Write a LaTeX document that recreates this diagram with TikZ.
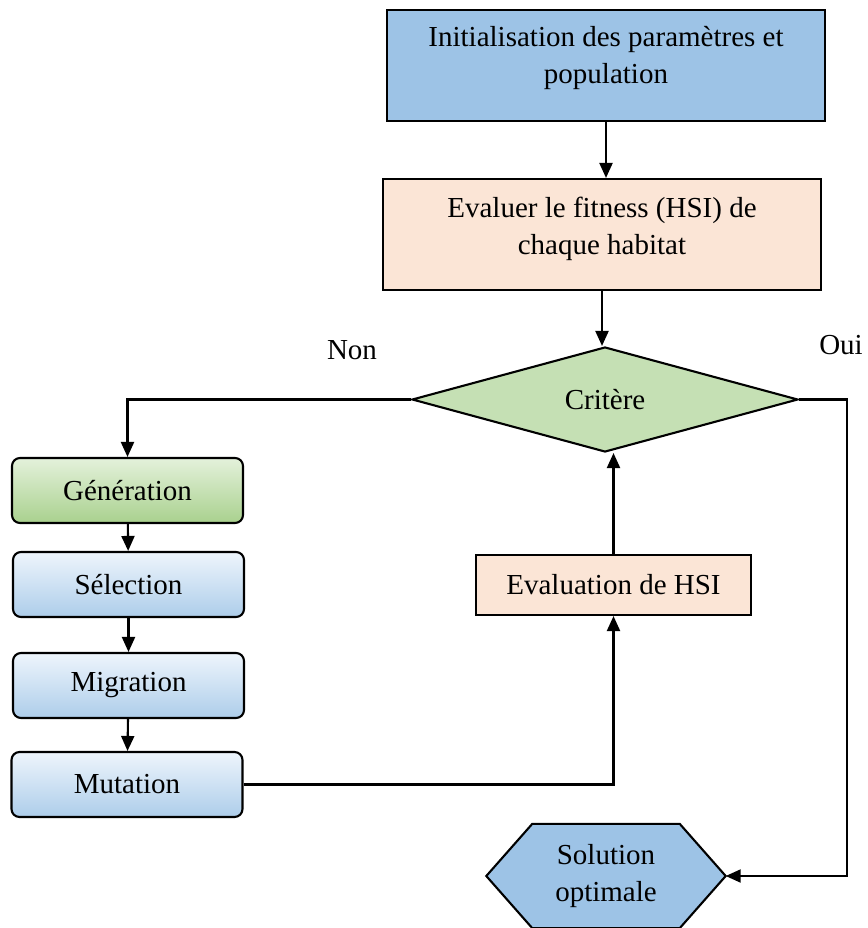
\documentclass[tikz,border=0pt]{standalone}
\usepackage{fontspec}
\setmainfont{Liberation Serif}
\usetikzlibrary{arrows.meta,shapes.geometric,backgrounds}
\definecolor{cblue}{HTML}{9DC3E6}
\definecolor{cpeach}{HTML}{FBE5D6}
\definecolor{cgreen}{HTML}{C5E0B4}
\definecolor{gentop}{HTML}{E4F1DB}
\definecolor{genbot}{HTML}{A9D18E}
\definecolor{seltop}{HTML}{EEF5FC}
\definecolor{selbot}{HTML}{ADCDEA}
\begin{document}
\begin{tikzpicture}[x=1pt,y=-1pt,
  txt/.style={font=\fontsize{29}{37}\selectfont, align=center, inner sep=0pt},
  box/.style={txt, draw=black, line width=2.1pt},
  rbox/.style={box, rounded corners=8pt, minimum width=231pt, minimum height=65pt},
  genbox/.style={rbox, top color=gentop, bottom color=genbot},
  selbox/.style={rbox, top color=seltop, bottom color=selbot},
  arr/.style={line width=2.1pt, -{Triangle[length=15pt,width=13pt]}},
  lbl/.style={font=\fontsize{29}{37}\selectfont, inner sep=0pt}]
\useasboundingbox (0,0) rectangle (867,928);

\node[box, fill=cblue, minimum width=438pt, minimum height=111pt] (init) at (606,65.5) {};
\node[txt] (initT) at ([yshift=7pt]init.center) {Initialisation des paramètres et\\population};
\node[box, fill=cpeach, minimum width=438pt, minimum height=111pt] (fit) at (602,234.5) {};
\node[txt] (fitT) at ([yshift=6pt]fit.center) {Evaluer le fitness (HSI) de\\chaque habitat};
\node[txt, draw=black, line width=2.1pt, fill=cgreen, shape=diamond, minimum width=386pt, minimum height=105pt, aspect=3.7] (crit) at (605,399.5) {Critère};

\node[genbox] (gen) at (127.5,490.5) {Génération};
\node[selbox] (sel) at (128.5,584.5) {Sélection};
\node[selbox] (mig) at (128.5,685.5) {Migration};
\node[selbox] (mut) at (127,784.5) {Mutation};

\node[box, fill=cpeach, minimum width=275pt, minimum height=60pt] (hsi) at (613.5,585) {Evaluation de HSI};

\node[txt, minimum width=239pt, minimum height=104pt] (sol) at (606,876) {Solution\\optimale};
\begin{scope}[on background layer]
\draw[line width=2.1pt, fill=cblue] (sol.west) -- ([xshift=46pt]sol.north west) -- ([xshift=-46pt]sol.north east) -- (sol.east) -- ([xshift=-46pt]sol.south east) -- ([xshift=46pt]sol.south west) -- cycle;
\end{scope}

\node[lbl] (non) at (352,350) {Non};
\node[lbl] (oui) at (841,345) {Oui};

\coordinate (rc) at (847,399.5);

\draw[arr] (init.south) -- (init.south |- fit.north);
\draw[arr] (fit.south) -- (fit.south |- crit.north);
\draw[arr] (crit.west) -| (gen.north);
\draw[arr] (crit.east) -- (rc) |- (sol.east);
\draw[arr] (gen) -- (sel);
\draw[arr] (sel) -- (mig);
\draw[arr] (mig) -- (mut);
\draw[arr] (mut.east) -| (hsi.south);
\draw[arr] (hsi.north) -- (hsi.north |- crit.south);
\end{tikzpicture}
\end{document}
